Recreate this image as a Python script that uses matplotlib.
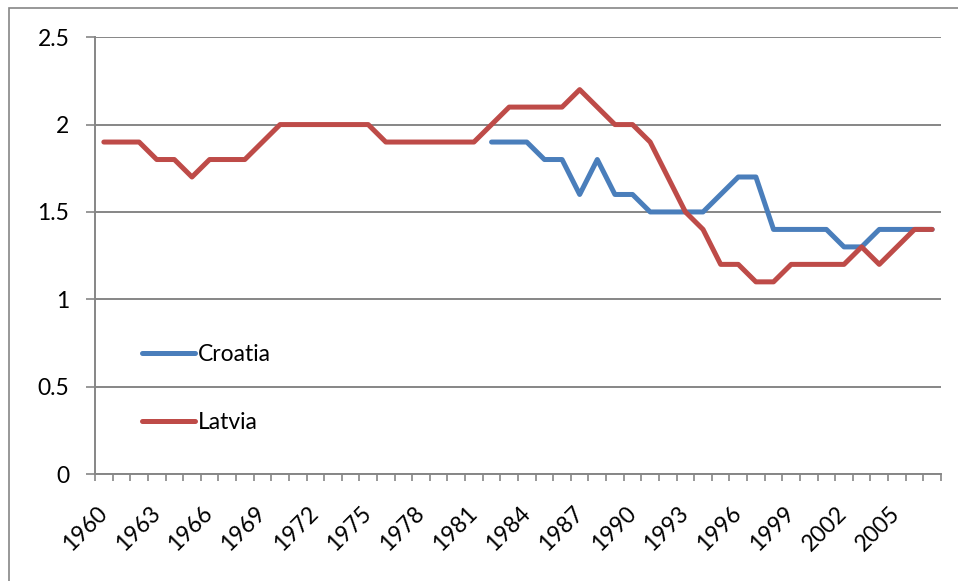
import matplotlib
matplotlib.use("Agg")
import matplotlib.pyplot as plt
from matplotlib.patches import Rectangle
from matplotlib.ticker import FixedLocator

years = list(range(1960, 2008))

latvia = [1.9, 1.9, 1.9, 1.8, 1.8, 1.7, 1.8, 1.8, 1.8, 1.9,
          2.0, 2.0, 2.0, 2.0, 2.0, 2.0, 1.9, 1.9, 1.9, 1.9,
          1.9, 1.9, 2.0, 2.1, 2.1, 2.1, 2.1, 2.2, 2.1, 2.0,
          2.0, 1.9, 1.7, 1.5, 1.4, 1.2, 1.2, 1.1, 1.1, 1.2,
          1.2, 1.2, 1.2, 1.3, 1.2, 1.3, 1.4, 1.4]

croatia_years = list(range(1982, 2008))
croatia = [1.9, 1.9, 1.9, 1.8, 1.8, 1.6, 1.8, 1.6, 1.6, 1.5,
           1.5, 1.5, 1.5, 1.6, 1.7, 1.7, 1.4, 1.4, 1.4, 1.4,
           1.3, 1.3, 1.4, 1.4, 1.4, 1.4]

y_ticks = [0, 0.5, 1, 1.5, 2, 2.5]
y_labels = ["0", "0.5", "1", "1.5", "2", "2.5"]

blue = "#4A7EBB"
red = "#BE4B48"
grey = "#868686"

plt.rcParams["font.family"] = ["Lato", "DejaVu Sans"]

fig = plt.figure(figsize=(9.58, 5.81), dpi=100)
ax = fig.add_axes([0.0992, 0.184, 0.883, 0.752])

# outer chart border (only top and left edges visible in the crop)
fig.patches.append(Rectangle((9 / 958, -0.5), 2.0, (581 - 8) / 581 + 0.5,
                             transform=fig.transFigure, fill=False,
                             edgecolor=grey, linewidth=1.2))

x_lat = [y - 1960 for y in years]
x_cro = [y - 1960 for y in croatia_years]

ax.plot(x_cro, croatia, color=blue, linewidth=3.6, solid_capstyle="round",
        solid_joinstyle="round", label="Croatia", zorder=3)
ax.plot(x_lat, latvia, color=red, linewidth=3.6, solid_capstyle="round",
        solid_joinstyle="round", label="Latvia", zorder=4)

ax.set_xlim(-0.5, len(years) - 0.5)
ax.set_ylim(0, 2.5)

ax.set_yticks(y_ticks)
ax.set_yticklabels(y_labels)
ax.yaxis.grid(True, color=grey, linewidth=1.4)
ax.set_axisbelow(True)

major = [i for i in range(len(years)) if i % 3 == 0]
ax.xaxis.set_major_locator(FixedLocator(major))
ax.set_xticklabels([str(years[i]) for i in major])
ax.xaxis.set_minor_locator(FixedLocator([i - 0.5 for i in range(len(years) + 1)]))

ax.tick_params(axis="x", which="major", length=0, pad=26, labelsize=16.5)
ax.tick_params(axis="x", which="minor", length=5, width=1.2, color=grey,
               direction="out")
ax.tick_params(axis="y", length=6.5, width=1.2, color=grey, pad=12, labelsize=16.5)
for lab in ax.get_xticklabels():
    lab.set_rotation(45)
    lab.set_rotation_mode("anchor")
    lab.set_ha("right")
    lab.set_va("center")

for side in ["top", "right"]:
    ax.spines[side].set_visible(False)
for side in ["left", "bottom"]:
    ax.spines[side].set_color(grey)
    ax.spines[side].set_linewidth(1.4)

ax.legend(loc="center left", bbox_to_anchor=(0.0556, 0.195), frameon=False,
          fontsize=16.5, handlelength=2.3, handletextpad=0.15, labelspacing=2.05,
          borderpad=0, borderaxespad=0)

fig.savefig("out.png", dpi=100)
